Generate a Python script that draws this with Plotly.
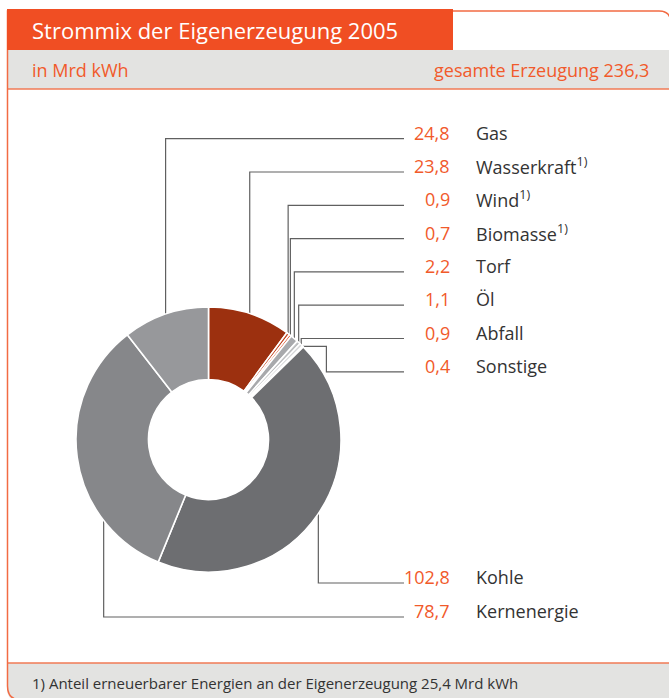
import math
import plotly.graph_objects as go

# ---------------- data ----------------
categories = ["Gas", "Wasserkraft", "Wind", "Biomasse", "Torf", "Öl",
              "Abfall", "Sonstige", "Kohle", "Kernenergie"]
values = [24.8, 23.8, 0.9, 0.7, 2.2, 1.1, 0.9, 0.4, 102.8, 78.7]
renewable = [False, True, True, True, False, False, False, False, False, False]
slice_order = ["Wasserkraft", "Wind", "Biomasse", "Torf", "Öl", "Abfall",
               "Sonstige", "Kohle", "Kernenergie", "Gas"]
total_generation = 236.3
renewable_total = 25.4

title = "Strommix der Eigenerzeugung 2005"
unit_text = "in Mrd kWh"
total_text = "gesamte Erzeugung " + f"{total_generation:.1f}".replace(".", ",")
footnote = ("1) Anteil erneuerbarer Energien an der Eigenerzeugung "
            + f"{renewable_total:.1f}".replace(".", ",") + " Mrd kWh")

# ---------------- style ----------------
colors = {
    "Wasserkraft": "#9C300F", "Wind": "#C2401A", "Biomasse": "#D9491E",
    "Torf": "#A8A9AC", "Öl": "#BEBFC1", "Abfall": "#D4D5D7",
    "Sonstige": "#E7E7E8", "Kohle": "#6D6E71", "Kernenergie": "#86878A",
    "Gas": "#97989B",
}
anchor_frac = {"Kernenergie": 0.25}
W, H = 669, 698
CX, CY, R, HOLE = 208.5, 439.5, 132.5, 0.453
ORANGE = "#F04E23"
ORANGE_TXT = "#F15A2B"
GRAY_BG = "#E3E3E1"
TXT = "#333333"
FONT = "Open Sans"
LINE_END = 404
VAL_X, LAB_X = 452, 474
row_y = {}
for i, c in enumerate(categories[:8]):
    row_y[c] = 132.7 + i * 33.3
row_y["Kohle"] = 577
row_y["Kernenergie"] = 611
LINE_DY = 6

val = dict(zip(categories, values))
ren = dict(zip(categories, renewable))
total = sum(values)

fig = go.Figure()

# donut
fig.add_trace(go.Pie(
    labels=slice_order,
    values=[val[c] for c in slice_order],
    marker=dict(colors=[colors[c] for c in slice_order],
                line=dict(color="white", width=1.6)),
    hole=HOLE, sort=False, direction="clockwise", rotation=0,
    textinfo="none", hoverinfo="label+value", showlegend=False,
    domain=dict(x=[(CX - R) / W, (CX + R) / W],
                y=[1 - (CY + R) / H, 1 - (CY - R) / H]),
))

# leader lines
cum = 0.0
for c in slice_order:
    v = val[c]
    a = (cum + v * anchor_frac.get(c, 0.5)) / total * 2 * math.pi
    cum += v
    ax = CX + R * math.sin(a)
    ay = CY - R * math.cos(a)
    ly = row_y[c] + LINE_DY
    y1, y2 = sorted([ay, ly])
    yc = min(max(CY, y1), y2)
    hw = math.sqrt(max(R * R - (yc - CY) ** 2, 0))
    side = 1 if math.sin(a) >= 0 else -1
    ex = ax
    if side > 0 and CX + hw > ax + 0.5:
        ex = CX + hw + 4
    if side < 0 and CX - hw < ax - 0.5:
        ex = CX - hw - 4
    xs = [ax, ex, ex, LINE_END]
    ys = [ay, ay, ly, ly]
    fig.add_trace(go.Scatter(x=xs, y=ys, mode="lines",
                             line=dict(color="#606060", width=1.2),
                             hoverinfo="skip", showlegend=False))

# frame shapes
shapes = [
    dict(type="rect", x0=7, x1=672, y0=50, y1=89, fillcolor=GRAY_BG,
         line=dict(width=0), layer="below"),
    dict(type="path",
         path="M 7,663 L 672,663 L 672,702 L 21.5,702 Q 7,702 7,688 Z",
         fillcolor=GRAY_BG, line=dict(width=0), layer="below"),
    dict(type="line", x0=7, x1=672, y0=89, y1=89,
         line=dict(color="#F07A55", width=1.6)),
    dict(type="line", x0=7, x1=672, y0=663, y1=663,
         line=dict(color="#F07A55", width=1.6)),
    dict(type="path",
         path=("M 7.5,11 L 659,11 Q 670.5,11 670.5,22 L 670.5,700 "
               "L 21.5,700 Q 7.5,700 7.5,686 Z"),
         line=dict(color="#F26B43", width=1.5)),
    dict(type="rect", x0=7, x1=453, y0=9, y1=50, fillcolor=ORANGE,
         line=dict(width=0)),
]

ann = [
    dict(x=30, y=30, text=title, xanchor="left", yanchor="middle",
         font=dict(family=FONT, size=22, color="white")),
    dict(x=30, y=70, text=unit_text, xanchor="left", yanchor="middle",
         font=dict(family=FONT, size=18, color=ORANGE_TXT)),
    dict(x=651, y=70, text=total_text, xanchor="right", yanchor="middle",
         font=dict(family=FONT, size=18, color=ORANGE_TXT)),
    dict(x=30, y=683, text=footnote, xanchor="left", yanchor="middle",
         font=dict(family=FONT, size=15, color=TXT)),
]
for c in categories:
    y = row_y[c]
    ann.append(dict(x=VAL_X, y=y, text=f"{val[c]:.1f}".replace(".", ","),
                    xanchor="right", yanchor="middle",
                    font=dict(family=FONT, size=18, color=ORANGE_TXT)))
    lab = c + ("<sup>1)</sup>" if ren[c] else "")
    ann.append(dict(x=LAB_X, y=y, text=lab, xanchor="left", yanchor="middle",
                    font=dict(family=FONT, size=18, color=TXT)))
for a in ann:
    a.update(xref="x", yref="y", showarrow=False)

fig.update_layout(
    width=W, height=H, margin=dict(l=0, r=0, t=0, b=0),
    paper_bgcolor="white", plot_bgcolor="rgba(0,0,0,0)",
    xaxis=dict(range=[0, W], visible=False, fixedrange=True),
    yaxis=dict(range=[H, 0], visible=False, fixedrange=True),
    shapes=shapes, annotations=ann, showlegend=False,
)

fig.write_html(
    "out.html",
    config={"displayModeBar": False},
    post_script="document.body.style.margin='0';"
                "document.body.style.overflow='hidden';",
)
